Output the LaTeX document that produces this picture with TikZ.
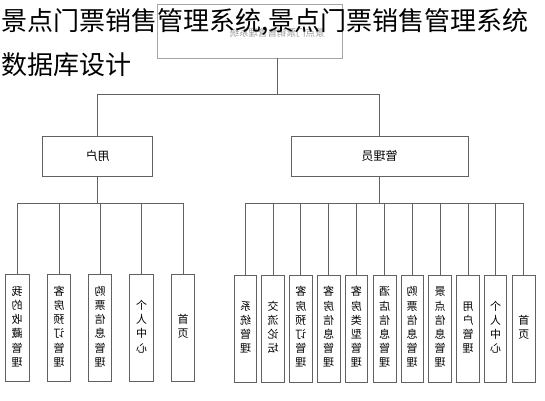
\documentclass[tikz,border=0pt]{standalone}
\usepackage{fontspec}
\usepackage{graphicx}
\newfontfamily\cjk{Noto Sans CJK SC}
\usetikzlibrary{calc}
\newcommand\vlab[1]{\reflectbox{\begin{tabular}{@{}c@{}}#1\end{tabular}}}
\newcommand\mlab[1]{\reflectbox{#1}}
\begin{document}
\begin{tikzpicture}[x=1pt,y=-1pt,
  conn/.style={draw=black!62, line width=0.9pt},
  topbox/.style={draw=black!35, line width=0.8pt, minimum width=185pt, minimum height=54pt, inner sep=0pt},
  midbox/.style={draw=black!62, line width=0.8pt, minimum height=40pt, inner sep=0pt, font=\cjk\fontsize{12}{12}\selectfont},
  leafbox/.style={draw=black!62, line width=0.8pt, minimum height=107pt, inner sep=0pt, font=\cjk\fontsize{11}{14.2}\selectfont},
  ulf/.style={leafbox, minimum width=23.5pt},
  alf/.style={leafbox, minimum width=22.5pt},
  titletext/.style={anchor=base west, inner sep=0pt, font=\cjk\fontsize{26}{26}\selectfont, text=black}
]
\useasboundingbox (0,0) rectangle (545,400);
\fill[white] (0,0) rectangle (545,400);

% top box
\node[topbox] (top) at (249.5,31) {};
\node[inner sep=0pt, font=\cjk\fontsize{9.5}{9.5}\selectfont, text=black!40] (toptxt) at (277,33) {\mlab{景点门票销售管理系统}};
\coordinate (tb) at (top.south -| toptxt);
\coordinate (bus1) at (0,94);
\coordinate (bus2) at (0,203);

% middle boxes
\node[midbox, minimum width=110pt] (user) at (97.7,156) {\mlab{用户}};
\node[midbox, minimum width=177pt] (admin) at (379.5,156) {\mlab{管理员}};

% user leaves
\node[ulf] (u1) at (17.2,328) {\vlab{我\\的\\收\\藏\\管\\理}};
\node[ulf] (u2) at (59,328) {\vlab{客\\房\\预\\订\\管\\理}};
\node[ulf] (u3) at (100,328) {\vlab{购\\票\\信\\息\\管\\理}};
\node[ulf] (u4) at (141.5,328) {\vlab{个\\人\\中\\心}};
\node[ulf] (u5) at (183,328) {\vlab{首\\页}};

% admin leaves
\node[alf] (a1) at (245.5,328.5) {\vlab{系\\统\\管\\理}};
\node[alf] (a2) at (273,328.5) {\vlab{交\\流\\论\\坛}};
\node[alf] (a3) at (300.8,328.5) {\vlab{客\\房\\预\\订\\管\\理}};
\node[alf] (a4) at (328.7,328.5) {\vlab{客\\房\\信\\息\\管\\理}};
\node[alf] (a5) at (356.3,328.5) {\vlab{客\\房\\类\\型\\管\\理}};
\node[alf] (a6) at (384.7,328.5) {\vlab{酒\\店\\信\\息\\管\\理}};
\node[alf] (a7) at (412.2,328.5) {\vlab{购\\票\\信\\息\\管\\理}};
\node[alf] (a8) at (440,328.5) {\vlab{景\\点\\信\\息\\管\\理}};
\node[alf] (a9) at (468,328.5) {\vlab{用\\户\\管\\理}};
\node[alf] (a10) at (495.5,328.5) {\vlab{个\\人\\中\\心}};
\node[alf] (a11) at (523.8,328.5) {\vlab{首\\页}};

% connectors
\draw[conn] (tb) -- (tb |- bus1) -| (user.north);
\draw[conn] (tb |- bus1) -| (admin.north);
\draw[conn] (user.south) -- (user.south |- bus2);
\foreach \i in {1,...,5} \draw[conn] (user.south |- bus2) -| (u\i.north);
\draw[conn] (admin.south) -- (admin.south |- bus2);
\foreach \i in {1,...,11} \draw[conn] (admin.south |- bus2) -| (a\i.north);

% overlay title
\node[titletext] (t1) at (1,30) {景点门票销售管理系统,景点门票销售管理系统};
\node[titletext] (t2) at (1,74) {数据库设计};
\end{tikzpicture}
\end{document}
